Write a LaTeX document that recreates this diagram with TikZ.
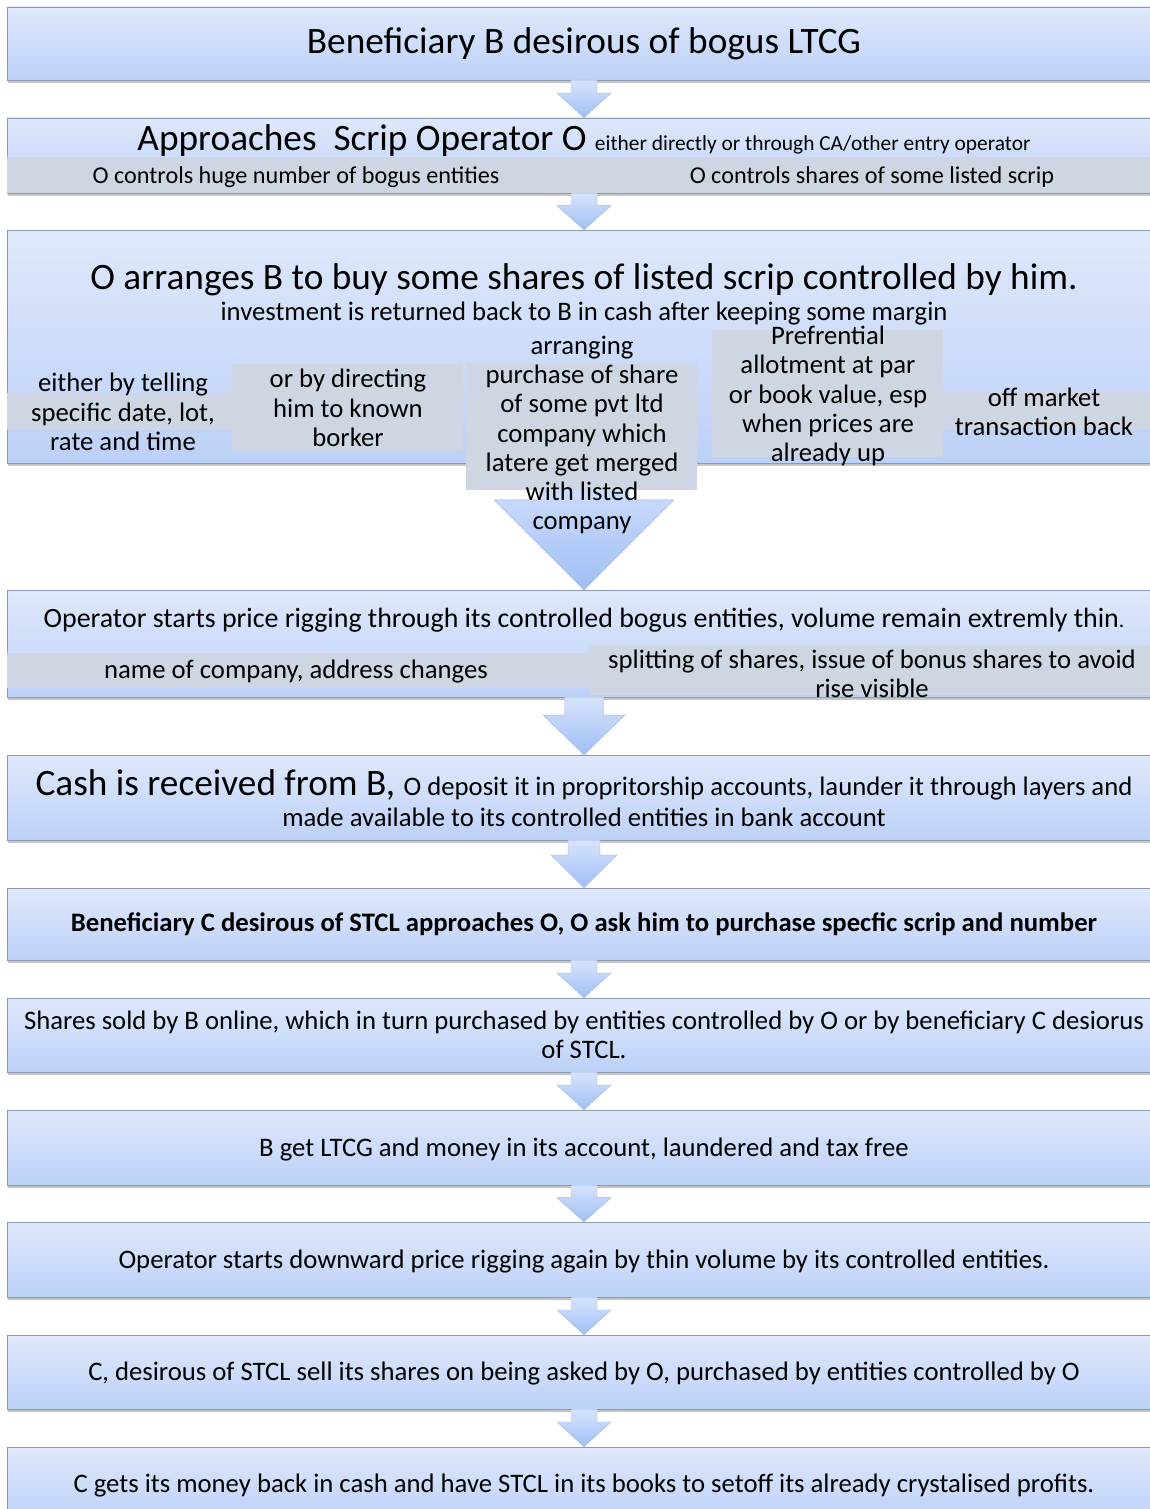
\documentclass[tikz,border=0pt]{standalone}
\usepackage{fontspec}
\setmainfont{Carlito}
\usetikzlibrary{calc,shadows}
\definecolor{boxtop}{HTML}{DFE8FB}
\definecolor{boxbot}{HTML}{BCD1F8}
\definecolor{boxline}{HTML}{8C9AB2}
\definecolor{band}{HTML}{CED6E4}
\definecolor{arrtop}{HTML}{D6E3FB}
\definecolor{arrbot}{HTML}{A0BFF6}
\definecolor{arrline}{HTML}{A3B8DA}
\newcommand{\hugetxt}{\fontsize{37.3}{44}\selectfont}
\newcommand{\headtxt}{\fontsize{27.9}{33}\selectfont}
\newcommand{\bodytxt}{\fontsize{26.7}{29.3}\selectfont}
\newcommand{\bandtxt}{\fontsize{24.2}{29}\selectfont}
\newcommand{\tinytxt}{\fontsize{21.4}{26}\selectfont}
\tikzset{
  flowbox/.style={draw=boxline,top color=boxtop,bottom color=boxbot,minimum width=1154,inner sep=0,
    drop shadow={shadow xshift=1pt,shadow yshift=-3pt,opacity=.45}},
  lowtext/.style={text height=22.7pt,text depth=5.5pt},
  bandbox/.style={fill=band},
  blockarrow/.style={draw=arrline,top color=arrtop,bottom color=arrbot},
  lbl/.style={align=center,inner sep=0}
}
% block arrow down: from, to, shaft half width, head half width, shaft part
\newcommand{\flowarrow}[5]{%
  \path[blockarrow] let \p1=(#1.south), \p2=(#2.north), \p3=($(#1.south)!#5!(#2.north)$) in
    (\x1-#3pt,\y1) -- (\x1-#3pt,\y3) -- (\x1-#4pt,\y3) -- (\x1,\y2)
    -- (\x1+#4pt,\y3) -- (\x1+#3pt,\y3) -- (\x1+#3pt,\y1) -- cycle;}
\begin{document}
\begin{tikzpicture}[x=1pt,y=-1pt]
\useasboundingbox (0,0) rectangle (1150,1509);
\clip (0,0) rectangle (1150,1509);
% boxes
\node[flowbox,minimum height=73,font=\hugetxt] (b1) at (584,43.5) {Beneficiary B desirous of bogus LTCG};
\node[flowbox,minimum height=75] (b2) at (584,155.5) {};
\node[flowbox,minimum height=233] (b3) at (584,346.5) {};
\node[flowbox,minimum height=107] (b4) at (584,643.5) {};
\node[flowbox,minimum height=85] (b5) at (584,797.5) {};
\node[flowbox,minimum height=72,font=\bodytxt\bfseries] (b6) at (584,924) {Beneficiary C desirous of STCL approaches O, O ask him to purchase specfic scrip and number};
\node[flowbox,minimum height=74,align=center,font=\bodytxt] (b7) at (584,1035) {Shares sold by B online, which in turn purchased by entities controlled by O or by beneficiary C desiorus\\of STCL.};
\node[flowbox,lowtext,minimum height=75,font=\bodytxt] (b8) at (584,1147.5) {B get LTCG and money in its account, laundered and tax free};
\node[flowbox,lowtext,minimum height=75,font=\bodytxt] (b9) at (584,1259.5) {Operator starts downward price rigging again by thin volume by its controlled entities.};
\node[flowbox,lowtext,minimum height=74,font=\bodytxt] (b10) at (584,1372) {C, desirous of STCL sell its shares on being asked by O, purchased by entities controlled by O};
\node[flowbox,lowtext,minimum height=73,font=\bodytxt] (b11) at (584,1483.5) {C gets its money back in cash and have STCL in its books to setoff its already crystalised profits.};
% arrows
\foreach \a/\b in {b1/b2,b2/b3,b6/b7,b7/b8,b8/b9,b9/b10,b10/b11}
  {\flowarrow{\a}{\b}{13}{27}{.34}}
\flowarrow{b3}{b4}{45}{90}{.29}
\flowarrow{b4}{b5}{19.5}{41}{.31}
\flowarrow{b5}{b6}{16}{33}{.31}
% grey bands
\fill[bandbox] (7,157) rectangle (1161,193);
\fill[bandbox] (7,393) rectangle (232,430);
\fill[bandbox] (232,364) rectangle (463,451);
\fill[bandbox] (466,363) rectangle (697,490);
\fill[bandbox] (712,330) rectangle (943,457);
\fill[bandbox] (943,392) rectangle (1161,430);
\fill[bandbox] (7,653) rectangle (590,688);
\fill[bandbox] (590,646) rectangle (1161,695);
% texts
\node[lbl,anchor=base] (t2) at (584,150) {\hugetxt Approaches~ Scrip Operator O {\tinytxt either directly or through CA/other entry operator}};
\node[lbl,font=\bandtxt] (t2a) at (296,177) {O controls huge number of bogus entities};
\node[lbl,font=\bandtxt] (t2b) at (872,177) {O controls shares of some listed scrip};
\node[lbl,anchor=base,font=\hugetxt] (t3) at (584,289) {O arranges B to buy some shares of listed scrip controlled by him.};
\node[lbl,anchor=base,font=\bodytxt] (t3s) at (584,320.5) {investment is returned back to B in cash after keeping some margin};
\node[lbl,font=\bodytxt] (t3a) at (123,412) {either by telling\\specific date, lot,\\rate and time};
\node[lbl,font=\bodytxt] (t3b) at (348,408) {or by directing\\him to known\\borker};
\node[lbl,font=\bodytxt] (t3c) at (582,435) {arranging\\purchase of share\\of some pvt ltd\\company which\\latere get merged\\with listed\\company};
\node[lbl,font=\bodytxt] (t3d) at (828,396) {Prefrential\\allotment at par\\or book value, esp\\when prices are\\already up};
\node[lbl,font=\bodytxt] (t3e) at (1044,412) {off market\\transaction back};
\node[lbl,anchor=base] (t4) at (584,627) {\headtxt Operator starts price rigging through its controlled bogus entities, volume remain extremly thin{\tinytxt .}};
\node[lbl,font=\bodytxt] (t4a) at (296,672) {name of company, address changes};
\node[lbl,font=\bodytxt] (t4b) at (872,674) {splitting of shares, issue of bonus shares to avoid\\rise visible};
\node[lbl,anchor=base] (t5) at (584,795) {\hugetxt Cash is received from B, {\bodytxt O deposit it in propritorship accounts, launder it through layers and}};
\node[lbl,anchor=base,font=\bodytxt] (t5b) at (584,826.5) {made available to its controlled entities in bank account};
\end{tikzpicture}
\end{document}
